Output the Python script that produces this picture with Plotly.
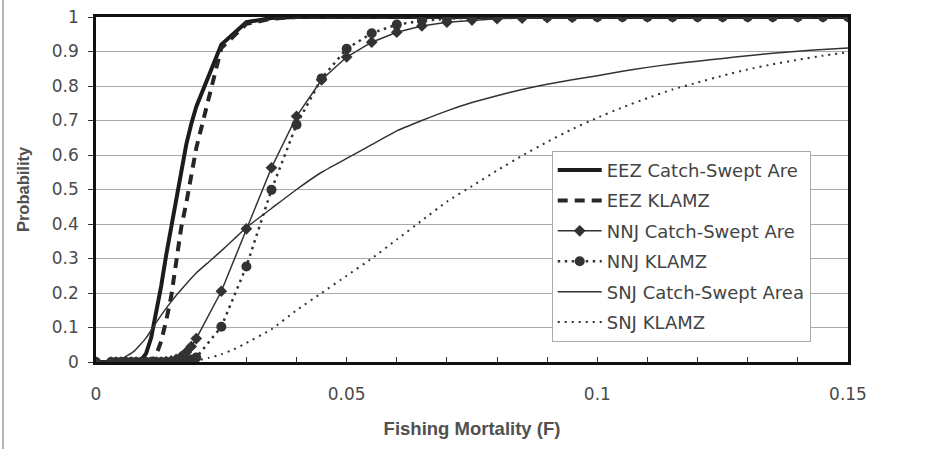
import plotly.graph_objects as go

# Fishing mortality grid shared by the EEZ and NNJ curves
F = [0.0, 0.003, 0.004, 0.005, 0.006, 0.007, 0.008, 0.009, 0.010, 0.011,
     0.012, 0.013, 0.014, 0.015, 0.016, 0.017, 0.018, 0.019, 0.020,
     0.025, 0.030, 0.035, 0.040, 0.045, 0.050, 0.055, 0.060, 0.065, 0.070,
     0.075, 0.080, 0.085, 0.090, 0.095, 0.100, 0.105, 0.110, 0.115, 0.120,
     0.125, 0.130, 0.135, 0.140, 0.145, 0.150]

eez_csa = [0, 0, 0, 0, 0, 0, 0, 0.005, 0.025, 0.07,
           0.14, 0.22, 0.31, 0.39, 0.48, 0.56, 0.63, 0.69, 0.74,
           0.92, 0.985, 0.997, 1, 1, 1, 1, 1, 1, 1,
           1, 1, 1, 1, 1, 1, 1, 1, 1, 1,
           1, 1, 1, 1, 1, 1]

eez_klamz = [0, 0, 0, 0, 0, 0, 0, 0, 0, 0,
             0.02, 0.06, 0.12, 0.19, 0.29, 0.39, 0.46, 0.54, 0.62,
             0.91, 0.98, 0.995, 1, 1, 1, 1, 1, 1, 1,
             1, 1, 1, 1, 1, 1, 1, 1, 1, 1,
             1, 1, 1, 1, 1, 1]

nnj_csa = [0, 0, 0, 0, 0, 0, 0, 0, 0, 0,
           0, 0, 0.001, 0.003, 0.008, 0.016, 0.028, 0.045, 0.068,
           0.205, 0.386, 0.563, 0.712, 0.818, 0.884, 0.927, 0.956, 0.974, 0.985,
           0.991, 0.995, 0.997, 0.998, 0.999, 1, 1, 1, 1, 1,
           1, 1, 1, 1, 1, 1]

nnj_klamz = [0, 0, 0, 0, 0, 0, 0, 0, 0, 0,
             0, 0, 0, 0, 0, 0.001, 0.003, 0.007, 0.013,
             0.102, 0.277, 0.499, 0.688, 0.822, 0.908, 0.953, 0.978, 0.989, 0.995,
             0.998, 1, 1, 1, 1, 1, 1, 1, 1, 1,
             1, 1, 1, 1, 1, 1]

# SNJ curves (smooth lines, no markers)
F_SNJ = [0.0, 0.0025, 0.004, 0.005, 0.0075, 0.010, 0.0125, 0.015, 0.0175,
         0.020, 0.0225, 0.025, 0.0275, 0.030,
         0.035, 0.040, 0.045, 0.050, 0.055, 0.060, 0.065, 0.070, 0.075, 0.080,
         0.085, 0.090, 0.095, 0.100, 0.105, 0.110, 0.115, 0.120, 0.125, 0.130,
         0.135, 0.140, 0.145, 0.150]

snj_csa = [0, 0, 0.002, 0.008, 0.03, 0.07, 0.125, 0.175, 0.218,
           0.258, 0.29, 0.322, 0.356, 0.39,
           0.445, 0.50, 0.55, 0.59, 0.63, 0.67, 0.70, 0.728, 0.752, 0.772,
           0.79, 0.805, 0.818, 0.83, 0.843, 0.854, 0.864, 0.872, 0.88, 0.888,
           0.895, 0.901, 0.906, 0.91]

snj_klamz = [0, 0, 0, 0, 0, 0, 0, 0, 0,
             0.004, 0.012, 0.022, 0.037, 0.055,
             0.095, 0.15, 0.20, 0.25, 0.30, 0.355, 0.41, 0.465, 0.51, 0.555,
             0.598, 0.638, 0.675, 0.708, 0.738, 0.765, 0.79, 0.81, 0.83, 0.848,
             0.863, 0.876, 0.888, 0.898]

# Axis tick positions and labels
x_ticks = [0, 0.05, 0.1, 0.15]
x_tick_labels = ["0", "0.05", "0.1", "0.15"]
y_ticks = [0, 0.1, 0.2, 0.3, 0.4, 0.5, 0.6, 0.7, 0.8, 0.9, 1]
y_tick_labels = ["0", "0.1", "0.2", "0.3", "0.4", "0.5", "0.6", "0.7", "0.8", "0.9", "1"]

series = [
    dict(name="EEZ Catch-Swept Are", x=F, y=eez_csa, mode="lines",
         line=dict(color="#1c1c1c", width=4)),
    dict(name="EEZ KLAMZ", x=F, y=eez_klamz, mode="lines",
         line=dict(color="#262626", width=4, dash="10px,7px")),
    dict(name="NNJ Catch-Swept Are", x=F, y=nnj_csa, mode="lines+markers",
         line=dict(color="#333333", width=1.5),
         marker=dict(symbol="diamond", size=9, color="#333333")),
    dict(name="NNJ KLAMZ", x=F, y=nnj_klamz, mode="lines+markers",
         line=dict(color="#333333", width=2.5, dash="2.5px,4.5px"),
         marker=dict(symbol="circle", size=10, color="#333333")),
    dict(name="SNJ Catch-Swept Area", x=F_SNJ, y=snj_csa, mode="lines",
         line=dict(color="#333333", width=1.5, shape="spline", smoothing=0.4)),
    dict(name="SNJ KLAMZ", x=F_SNJ, y=snj_klamz, mode="lines",
         line=dict(color="#333333", width=2, dash="2px,5px",
                   shape="spline", smoothing=0.4)),
]

fig = go.Figure()
for i, s in enumerate(series):
    fig.add_trace(go.Scatter(legendgroup=f"g{i}", **s))

tick_font = dict(family="DejaVu Sans", size=17, color="#4a4a4a")
title_font = dict(family="Liberation Sans", size=18.5, color="#505050")

fig.update_layout(
    width=938, height=449,
    margin=dict(l=96, r=90, t=17, b=87),
    paper_bgcolor="white", plot_bgcolor="white",
    showlegend=True,
    legend=dict(
        x=0.606, y=0.612, xanchor="left", yanchor="top",
        bgcolor="white", bordercolor="#aaaaaa", borderwidth=1,
        font=dict(family="DejaVu Sans", size=18, color="#444444"),
        tracegroupgap=4, itemwidth=44, traceorder="grouped",
    ),
    xaxis=dict(
        range=[0, 0.15], tickvals=x_ticks, ticktext=x_tick_labels,
        automargin=False,
        showgrid=False, zeroline=False,
        showline=True, linecolor="#111111", linewidth=2.5, mirror=True,
        ticks="inside", ticklen=5, tickcolor="#333333",
        minor=dict(dtick=0.01, ticks="inside", ticklen=5, tickcolor="#333333"),
        tickfont=tick_font, ticklabelstandoff=15,
        title=dict(text="<b>Fishing Mortality (F)</b>", font=title_font, standoff=19),
    ),
    yaxis=dict(
        range=[0, 1], tickvals=y_ticks, ticktext=y_tick_labels,
        automargin=False,
        showgrid=True, gridcolor="#aaaaaa", gridwidth=1, zeroline=False,
        showline=True, linecolor="#111111", linewidth=2.5, mirror=True,
        ticks="outside", ticklen=5, tickcolor="#333333",
        tickfont=tick_font, ticklabelstandoff=6,
        title=dict(text="<b>Probability</b>",
                   font=dict(family="Liberation Sans", size=16.5, color="#505050"),
                   standoff=19),
    ),
    shapes=[dict(type="line", xref="paper", yref="paper",
                 x0=-0.1237, x1=-0.1237, y0=-0.3, y1=1.1,
                 line=dict(color="#9a9a9a", width=1.5))],
)

fig.write_html("out.html")
